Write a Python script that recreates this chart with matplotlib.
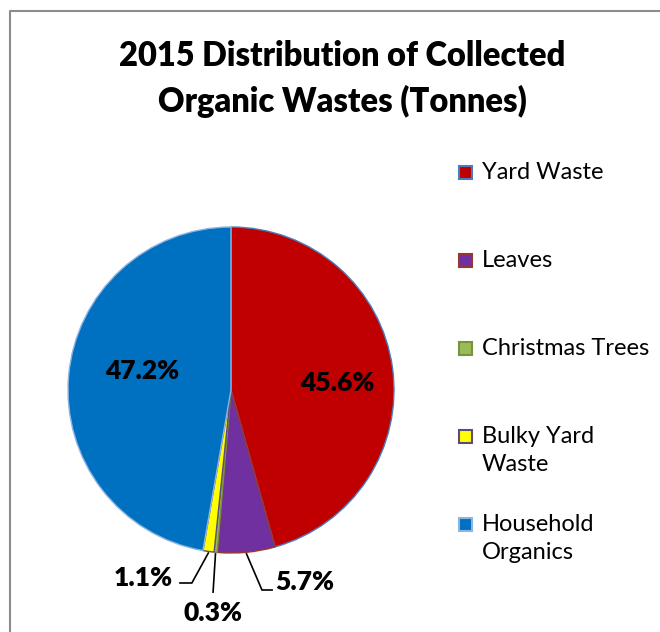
import numpy as np
import matplotlib
matplotlib.use('Agg')
import matplotlib.pyplot as plt
from matplotlib.lines import Line2D
from matplotlib.patches import Rectangle

categories = ['Yard Waste', 'Leaves', 'Christmas Trees', 'Bulky Yard\nWaste', 'Household\nOrganics']
shares = [45.6, 5.7, 0.3, 1.1, 47.2]
colors = ['#C00000', '#7030A0', '#9BBB59', '#FFFF00', '#0070C0']
edges = ['#4A7EBB', '#953735', '#77933C', '#604A7B', '#8EB4E3']

# label placement (data units, pie radius = 1)
label_pos = [(0.650, 0.043), (0.454, -1.178), (-0.110, -1.368), (-0.540, -1.153), (-0.546, 0.117)]
# leader line elbows (None = no leader)
elbows = [None, [(0.190, -1.227), (0.252, -1.227)], [(-0.110, -1.240)], [(-0.240, -1.184), (-0.313, -1.184)], None]

plt.rcParams['font.family'] = ['Lato', 'DejaVu Sans']

W, H = 660, 632
fig = plt.figure(figsize=(W / 100, H / 100), dpi=100)

# outer chart frame (left and top only visible)
fig.add_artist(Line2D([10 / W, 10 / W, 1], [0, 1 - 11 / H, 1 - 11 / H],
                      transform=fig.transFigure, color='#8C8C8C', lw=1.5))

fig.text(342 / W, 1 - 56 / H, '2015 Distribution of Collected', ha='center', va='center',
         fontsize=23.5, fontweight='heavy')
fig.text(342 / W, 1 - 101 / H, 'Organic Wastes (Tonnes)', ha='center', va='center',
         fontsize=23.5, fontweight='heavy')

cx, cy, r = 231, 390, 163
ax = fig.add_axes([(cx - r) / W, 1 - (cy + r) / H, 2 * r / W, 2 * r / H])
wedges, _ = ax.pie(shares, colors=colors, startangle=90, counterclock=False, radius=1,
                   wedgeprops=dict(linewidth=1))
for w, ec in zip(wedges, edges):
    w.set_edgecolor(ec)
ax.set_xlim(-1, 1)
ax.set_ylim(-1, 1)
ax.set_aspect('equal')
ax.axis('off')

for w, v, pos, elb in zip(wedges, shares, label_pos, elbows):
    ax.text(pos[0], pos[1], f'{v:.1f}%', ha='center', va='center', fontsize=19,
            fontweight='heavy', clip_on=False)
    if elb is not None:
        ang = np.deg2rad((w.theta1 + w.theta2) / 2)
        xs = [1.01 * np.cos(ang)] + [p[0] for p in elb]
        ys = [1.01 * np.sin(ang)] + [p[1] for p in elb]
        ax.plot(xs, ys, color='black', lw=1.2, clip_on=False)

# legend: entries evenly spaced by their first line
for i, (name, c, ec) in enumerate(zip(categories, colors, edges)):
    yc = 172 + 88 * i
    fig.add_artist(Rectangle((459 / W, 1 - (yc + 7) / H), 13 / W, 13 / H,
                             transform=fig.transFigure, facecolor=c, edgecolor=ec, lw=1.5))
    fig.text(482 / W, 1 - (yc - 10) / H, name, ha='left', va='top', fontsize=17,
             linespacing=1.4)

fig.savefig('out.png', dpi=100, facecolor='white')
